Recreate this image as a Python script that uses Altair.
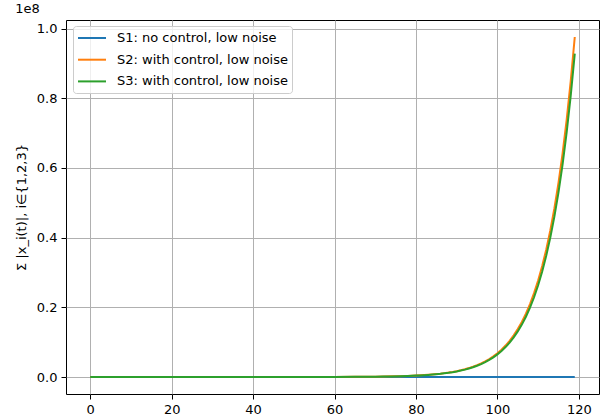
import altair as alt
import pandas as pd

# time steps
t = [0, 10, 20, 30, 40, 50, 60, 65, 70, 72, 74, 76, 78] + list(range(80, 120))

# values in units of 1e8
s1 = [0.0] * 53
s2 = [0.0, 0.0, 0.0, 0.0, 0.0, 0.0001, 0.0003, 0.0005, 0.0010, 0.0014, 0.0018, 0.0024, 0.0032,
      0.0042, 0.0048, 0.0055, 0.0063, 0.0073, 0.0084, 0.0096, 0.0111, 0.0127, 0.0146,
      0.0168, 0.0194, 0.0223, 0.0256, 0.0295, 0.0339, 0.0390, 0.0449, 0.0516, 0.0594,
      0.0683, 0.0785, 0.0903, 0.1039, 0.1195, 0.1375, 0.1581, 0.1819, 0.2092, 0.2407,
      0.2768, 0.3184, 0.3663, 0.4213, 0.4847, 0.5575, 0.6413, 0.7376, 0.8485, 0.976]
s3 = [0.0, 0.0, 0.0, 0.0, 0.0, 0.0001, 0.0003, 0.0005, 0.0010, 0.0013, 0.0017, 0.0023, 0.0030,
      0.0040, 0.0046, 0.0052, 0.0060, 0.0069, 0.0080, 0.0091, 0.0106, 0.0121, 0.0139,
      0.0160, 0.0184, 0.0212, 0.0243, 0.0281, 0.0322, 0.0371, 0.0427, 0.0491, 0.0565,
      0.0650, 0.0747, 0.0859, 0.0988, 0.1136, 0.1308, 0.1504, 0.1730, 0.1990, 0.2289,
      0.2632, 0.3028, 0.3484, 0.4007, 0.4610, 0.5302, 0.6099, 0.7015, 0.8070, 0.928]

names = ["S1: no control, low noise", "S2: with control, low noise", "S3: with control, low noise"]
colors = ["#1f77b4", "#ff7f0e", "#2ca02c"]
x_ticks = [0, 20, 40, 60, 80, 100, 120]
y_ticks = [0.0, 0.2, 0.4, 0.6, 0.8, 1.0]

rows = []
for name, vals in zip(names, [s1, s2, s3]):
    for tt, v in zip(t, vals):
        rows.append({"t": tt, "v": v, "series": name})
df = pd.DataFrame(rows)

FONT = "DejaVu Sans"
FS = 13

chart = alt.Chart(df).mark_line(strokeWidth=2, clip=True).encode(
    x=alt.X("t:Q",
            scale=alt.Scale(domain=[-5.95, 124.95], nice=False, zero=False),
            axis=alt.Axis(values=x_ticks, title=None, format="d")),
    y=alt.Y("v:Q",
            scale=alt.Scale(domain=[-0.0488, 1.0248], nice=False, zero=False),
            axis=alt.Axis(values=y_ticks, format=".1f", title="Σ |x_i(t)|, i∈{1,2,3}",
                          titlePadding=8)),
    color=alt.Color("series:N",
                    scale=alt.Scale(domain=names, range=colors),
                    legend=alt.Legend(title=None, orient="none", legendX=7, legendY=6,
                                      fillColor="rgba(255,255,255,0.8)", strokeColor="#cccccc",
                                      cornerRadius=3, padding=4, symbolType="M-2,0L2,0",
                                      symbolSize=196, symbolStrokeWidth=2, symbolOffset=7,
                                      labelFontSize=FS, labelFont=FONT, labelColor="black",
                                      labelLimit=0, rowPadding=6.7, labelOffset=17)),
).properties(
    width=533, height=374,
    title=alt.TitleParams("1e8", anchor="start", fontSize=FS, fontWeight="normal",
                          font=FONT, color="black", offset=4),
    autosize=alt.AutoSizeParams(type="none"),
    padding={"left": 66, "top": 20, "right": 1, "bottom": 22},
).configure_view(
    stroke="black", strokeWidth=1
).configure_axis(
    domain=False, grid=True, gridColor="#b0b0b0", gridWidth=1,
    tickColor="black", tickSize=5, tickWidth=1,
    labelFont=FONT, labelFontSize=FS, labelColor="black", labelPadding=4,
    titleFont=FONT, titleFontSize=FS, titleFontWeight="normal", titleColor="black",
)

chart.save("out.html", embed_options={"renderer": "svg", "actions": False})
